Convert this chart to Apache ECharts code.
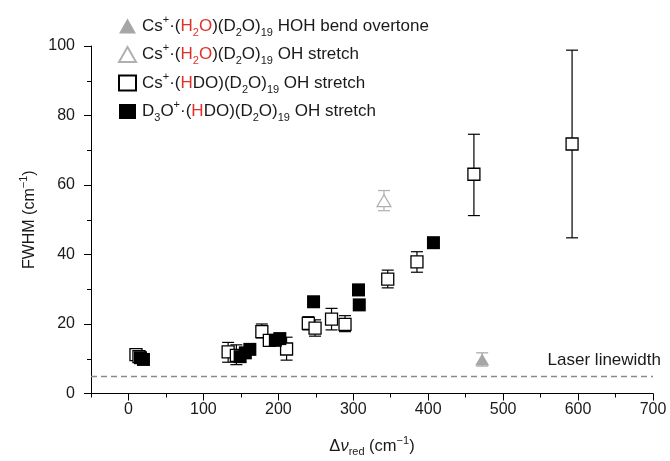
<!DOCTYPE html>
<html><head><meta charset="utf-8">
<script src="https://cdn.jsdelivr.net/npm/echarts@6/dist/echarts.min.js"></script>
<style>html,body{margin:0;padding:0;background:#fff}#c{width:670px;height:461px}</style>
</head><body><div id="c"></div>
<script>
// ---- data ----
const bendX = [472], bendY = [9.8], bendLo = [7.9], bendHi = [11.7];
const h2oX = [341], h2oY = [55.5], h2oLo = [52.6], h2oHi = [58.4];
const hdoX  = [10, 14, 133, 144, 178, 188, 211, 240, 249, 271, 289, 346, 385, 461, 592];
const hdoY  = [11.2, 10.6, 12.0, 11.0, 17.8, 15.3, 12.8, 20.2, 18.8, 21.4, 19.9, 32.9, 37.9, 63.1, 71.8];
const hdoLo = [10.3, 9.8, 9.0, 8.3, 16.0, 14.3, 9.6, 18.3, 16.5, 18.3, 17.8, 30.4, 34.9, 51.2, 44.8];
const hdoHi = [12.1, 11.4, 14.7, 14.0, 20.0, 16.3, 16.2, 22.1, 21.2, 24.5, 22.4, 35.5, 40.8, 74.6, 98.8];
const d3oX  = [16, 20, 149, 156, 162, 196, 202, 247, 307, 308, 407];
const d3oY  = [10.3, 9.8, 10.6, 11.7, 12.7, 15.3, 15.8, 26.4, 29.8, 25.5, 43.4];
const d3oLo = [9.6, 9.2, 9.9, 11.0, 12.0, 14.6, 15.1, 25.7, 28.3, 24.8, 42.5];
const d3oHi = [11.0, 10.4, 11.3, 12.4, 13.4, 16.0, 16.5, 27.1, 31.4, 26.2, 44.3];
const laserWidth = 5;
const xMajorTicks = [0, 100, 200, 300, 400, 500, 600, 700];
const xMinorTicks = [-50, 50, 150, 250, 350, 450, 550, 650];
const names = [
  'Cs+(H2O)(D2O)19 HOH bend overtone',
  'Cs+(H2O)(D2O)19 OH stretch',
  'Cs+(HDO)(D2O)19 OH stretch',
  'D3O+(HDO)(D2O)19 OH stretch'
];
const legendRich = {};
legendRich[names[0]] = '{t|Cs}{sup|+}{t|·(}{r|H}{rs|2}{r|O}{t|)(D}{sub|2}{t|O)}{sub|19}{t| HOH bend overtone}';
legendRich[names[1]] = '{t|Cs}{sup|+}{t|·(}{r|H}{rs|2}{r|O}{t|)(D}{sub|2}{t|O)}{sub|19}{t| OH stretch}';
legendRich[names[2]] = '{t|Cs}{sup|+}{t|·(}{r|H}{t|DO)(D}{sub|2}{t|O)}{sub|19}{t| OH stretch}';
legendRich[names[3]] = '{t|D}{sub|3}{t|O}{sup|+}{t|·(}{r|H}{t|DO)(D}{sub|2}{t|O)}{sub|19}{t| OH stretch}';

// ---- styles ----
const FF = 'Liberation Sans, Arial, Helvetica, sans-serif';
const TXT = '#1a1a1a', RED = '#e0302a';
function richSet(fs, lh, sfs) {
  return {
    t:   {fontFamily: FF, fontSize: fs, color: TXT, lineHeight: lh, verticalAlign: 'middle'},
    i:   {fontFamily: FF, fontSize: fs, color: TXT, lineHeight: lh, verticalAlign: 'middle', fontStyle: 'italic'},
    r:   {fontFamily: FF, fontSize: fs, color: RED, lineHeight: lh, verticalAlign: 'middle'},
    sup: {fontFamily: FF, fontSize: sfs, color: TXT, lineHeight: sfs, verticalAlign: 'top'},
    sub: {fontFamily: FF, fontSize: sfs, color: TXT, lineHeight: sfs, verticalAlign: 'bottom'},
    rs:  {fontFamily: FF, fontSize: sfs, color: RED, lineHeight: sfs, verticalAlign: 'bottom'}
  };
}

function errSeries(name, xs, lo, hi, color, z) {
  return {
    type: 'custom', name: name, z: z, silent: true,
    data: xs.map((x, i) => [x, lo[i], hi[i]]),
    encode: {x: 0, y: [1, 2]},
    renderItem: function (params, api) {
      const x = api.value(0);
      const p1 = api.coord([x, api.value(1)]);
      const p2 = api.coord([x, api.value(2)]);
      const w = 6, st = {stroke: color, lineWidth: 1.2};
      return {type: 'group', children: [
        {type: 'line', shape: {x1: p1[0], y1: p1[1], x2: p2[0], y2: p2[1]}, style: st},
        {type: 'line', shape: {x1: p1[0] - w, y1: p1[1], x2: p1[0] + w, y2: p1[1]}, style: st},
        {type: 'line', shape: {x1: p2[0] - w, y1: p2[1], x2: p2[0] + w, y2: p2[1]}, style: st}
      ]};
    }
  };
}
const pts = (xs, ys) => xs.map((x, i) => [x, ys[i]]);

const chart = echarts.init(document.getElementById('c'), null, {renderer: 'canvas'});
chart.setOption({
  animation: false,
  backgroundColor: '#fff',
  grid: {left: 91, right: 17, top: 46, bottom: 67.5, containLabel: false, outerBoundsMode: 'none'},
  legend: {
    orient: 'vertical', left: 113, top: 9, itemWidth: 17, itemHeight: 15, itemGap: 4.5,
    selectedMode: false, data: names,
    formatter: n => legendRich[n],
    textStyle: {rich: richSet(17, 24, 11), padding: [0, 0, 0, 1]}
  },
  xAxis: [{
    type: 'value', min: -50, max: 700, interval: 50,
    axisLine: {onZero: false, lineStyle: {color: '#000', width: 1}},
    axisTick: {length: 7, customValues: xMajorTicks, lineStyle: {color: '#000', width: 1}},
    axisLabel: {customValues: xMajorTicks, fontFamily: FF, fontSize: 16, color: TXT, margin: 8},
    splitLine: {show: false},
    name: '{t|Δ}{i|ν}{sub|red}{t| (cm}{sup|−1}{t|)}',
    nameLocation: 'middle', nameGap: 42,
    nameTextStyle: {rich: richSet(16.5, 22, 11)}
  }, {
    type: 'value', min: -50, max: 700, interval: 50, position: 'bottom',
    axisLine: {show: false},
    axisTick: {length: 4, customValues: xMinorTicks, lineStyle: {color: '#000', width: 1}},
    axisLabel: {show: false}, splitLine: {show: false}
  }],
  yAxis: {
    type: 'value', min: 0, max: 100, interval: 20,
    axisLine: {show: true, onZero: false, lineStyle: {color: '#000', width: 1}},
    axisTick: {show: true, length: 7, lineStyle: {color: '#000', width: 1}},
    minorTick: {show: true, splitNumber: 2, length: 4, lineStyle: {color: '#000', width: 1}},
    splitLine: {show: false}, minorSplitLine: {show: false},
    axisLabel: {fontFamily: FF, fontSize: 16, color: TXT, margin: 16},
    name: '{t|FWHM (cm}{sup|−1}{t|)}',
    nameLocation: 'middle', nameGap: 50,
    nameTextStyle: {rich: richSet(16, 22, 11)}
  },
  series: [
    errSeries('errBend', bendX, bendLo, bendHi, '#a6a6a6', 2),
    {type: 'scatter', name: names[0], z: 3, data: pts(bendX, bendY), symbol: 'triangle', symbolSize: [14, 12],
      itemStyle: {color: '#a6a6a6', opacity: 1}},
    errSeries('errH2O', h2oX, h2oLo, h2oHi, '#b0b0b0', 2),
    {type: 'scatter', name: names[1], z: 3, data: pts(h2oX, h2oY), symbol: 'triangle', symbolSize: [14, 12],
      itemStyle: {color: '#fff', borderColor: '#b0b0b0', borderWidth: 1.2, opacity: 1}},
    errSeries('errHDO', hdoX, hdoLo, hdoHi, '#000', 4),
    {type: 'scatter', name: names[2], z: 5, data: pts(hdoX, hdoY), symbol: 'rect', symbolSize: 12,
      itemStyle: {color: '#fff', borderColor: '#000', borderWidth: 1.3, opacity: 1},
      markLine: {
        silent: true, symbol: 'none', animation: false,
        data: [{yAxis: laserWidth}],
        lineStyle: {type: [6, 4], color: '#8a8a8a', width: 1.4},
        label: {show: true, position: 'insideEndTop', formatter: 'Laser linewidth',
          fontFamily: FF, fontSize: 17, color: TXT, distance: [-8, 7]}
      }},
    errSeries('errD3O', d3oX, d3oLo, d3oHi, '#000', 6),
    {type: 'scatter', name: names[3], z: 7, data: pts(d3oX, d3oY), symbol: 'rect', symbolSize: 13,
      itemStyle: {color: '#000', opacity: 1}}
  ]
});
</script>
</body></html>
